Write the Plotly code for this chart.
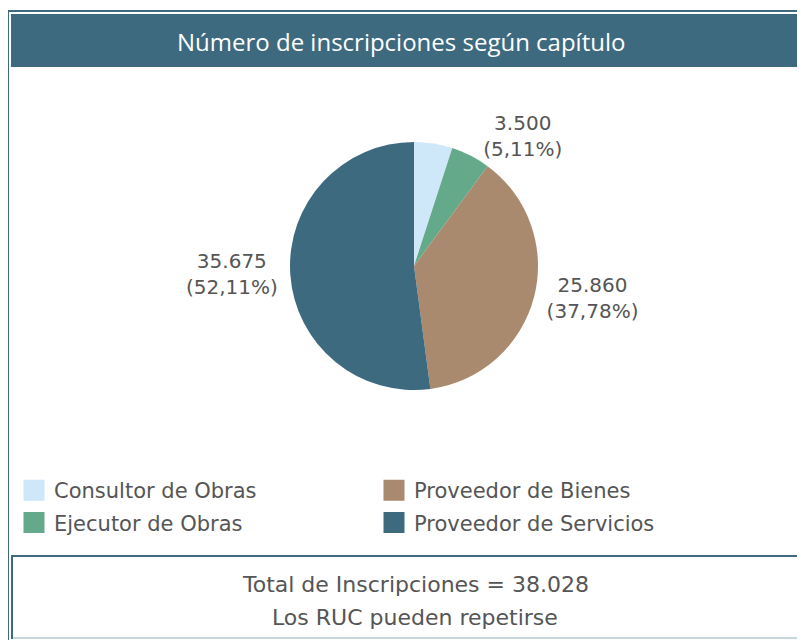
import plotly.graph_objects as go

# ---- data ----
categories = ["Consultor de Obras", "Ejecutor de Obras", "Proveedor de Bienes", "Proveedor de Servicios"]
values = [3421, 3500, 25860, 35675]
colors = ["#cfe8f9", "#64a98a", "#a98a6f", "#3e6a80"]
show_label = ["none", "outside", "outside", "outside"]
legend_col1 = ["Consultor de Obras", "Ejecutor de Obras"]
legend_col2 = ["Proveedor de Bienes", "Proveedor de Servicios"]
title_text = "Número de inscripciones según capítulo"
footer_lines = ["Total de Inscripciones = 38.028", "Los RUC pueden repetirse"]

W, H = 805, 640
OFF = 8  # page offset of the plot div
FONT = "DejaVu Sans"
TITLE_FONT = "Open Sans"
GREY = "#555555"
DARK = "#3e6a80"
LIGHT = "#c9d5dc"


def px(x):
    return (x - OFF) / W


def py(y):
    return 1 - (y - OFF) / H


fig = go.Figure()

# pie
cx, cy, r = 414, 266, 124
fig.add_trace(go.Pie(
    labels=categories,
    values=values,
    sort=False,
    direction="clockwise",
    rotation=0,
    marker=dict(colors=colors, line=dict(width=0)),
    textposition=show_label,
    texttemplate="%{value:,.0f}<br>(%{percent:.2%})",
    outsidetextfont=dict(family=FONT, size=20, color=GREY),
    showlegend=False,
    hoverinfo="label+value+percent",
    domain=dict(x=[px(cx - r), px(cx + r)], y=[py(cy + r), py(cy - r)]),
))

# legend entries (dummy traces), two columns -> two legends
for legend_id, names in (("legend", legend_col1), ("legend2", legend_col2)):
    for name in names:
        c = colors[categories.index(name)]
        fig.add_trace(go.Scatter(
            x=[None], y=[None], mode="markers", name=name, legend=legend_id,
            legendgroup=name,
            marker=dict(symbol="square", size=19, color=c, line=dict(color=c, width=5)),
            showlegend=True, hoverinfo="skip",
        ))

P = dict(xref="paper", yref="paper")
shapes = [
    # outer frame lines
    dict(type="line", x0=px(8), x1=px(8), y0=py(11), y1=py(650), line=dict(color=DARK, width=2), **P),
    dict(type="line", x0=px(7), x1=px(815), y0=py(11), y1=py(11), line=dict(color=DARK, width=2), **P),
    # title bar
    dict(type="rect", x0=px(11), x1=px(815), y0=py(67), y1=py(14), fillcolor=DARK, line=dict(width=0), **P),
    # footer box
    dict(type="line", x0=px(12), x1=px(815), y0=py(638), y1=py(638), line=dict(color=LIGHT, width=2), **P),
    dict(type="line", x0=px(12), x1=px(815), y0=py(556), y1=py(556), line=dict(color=DARK, width=2), **P),
    dict(type="line", x0=px(12), x1=px(12), y0=py(555), y1=py(639), line=dict(color=DARK, width=2), **P),
]

annotations = [
    dict(text=title_text, x=px(401), y=py(42), xref="paper", yref="paper", showarrow=False,
         font=dict(family=TITLE_FONT, size=24, color="white"), xanchor="center", yanchor="middle"),
]
for i, line in enumerate(footer_lines):
    annotations.append(dict(text=line, x=px(415), y=py(584 + 33 * i), xref="paper", yref="paper",
                            showarrow=False, font=dict(family=FONT, size=22, color=GREY),
                            xanchor="center", yanchor="middle"))

legend_common = dict(
    orientation="v", yanchor="top", xanchor="left", tracegroupgap=2,
    font=dict(family=FONT, size=21, color=GREY),
    bgcolor="rgba(0,0,0,0)", itemclick=False, itemdoubleclick=False,
)

fig.update_layout(
    width=W, height=H,
    margin=dict(l=0, r=0, t=0, b=0),
    paper_bgcolor="white",
    plot_bgcolor="white",
    separators=",.",
    xaxis=dict(visible=False),
    yaxis=dict(visible=False),
    shapes=shapes,
    annotations=annotations,
    legend=dict(x=px(14), y=py(470), **legend_common),
    legend2=dict(x=px(374), y=py(470), **legend_common),
)

fig.write_html("out.html")
